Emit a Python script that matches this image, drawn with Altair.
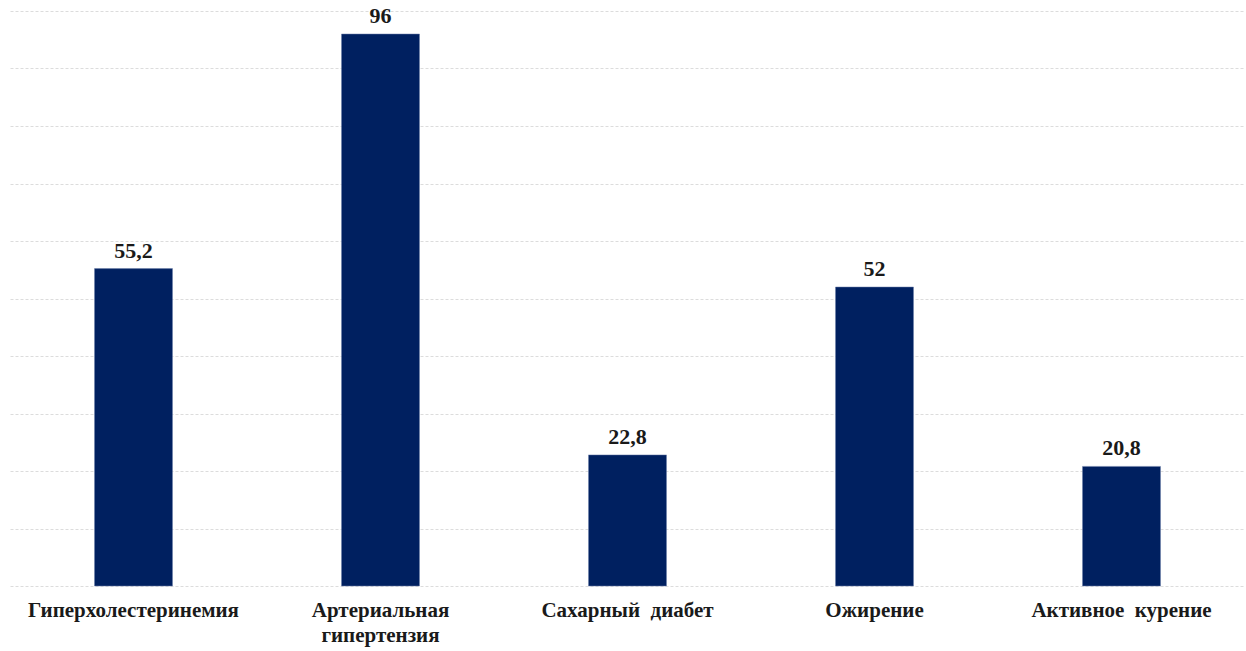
import altair as alt
import pandas as pd

categories = ["Гиперхолестеринемия", "Артериальная\nгипертензия", "Сахарный\u00a0\u00a0диабет", "Ожирение", "Активное\u00a0\u00a0курение"]
values = [55.2, 96, 22.8, 52, 20.8]
value_labels = ["55,2", "96", "22,8", "52", "20,8"]

df = pd.DataFrame({"cat": categories, "val": values, "lbl": value_labels})

FONT = "Liberation Serif"

x = alt.X("cat:N", sort=None, title=None,
          scale=alt.Scale(paddingInner=0, paddingOuter=0),
          axis=alt.Axis(labelAngle=0, labelFont=FONT, labelFontSize=21, labelFontWeight="bold",
                        labelColor="#1a1a1a", labelPadding=13, labelLineHeight=25,
                        labelExpr="split(datum.value, '\\n')",
                        ticks=False, domain=False, grid=False, labelLimit=400))
y = alt.Y("val:Q", title=None,
          scale=alt.Scale(domain=[0, 100], nice=False),
          axis=alt.Axis(values=list(range(0, 101, 10)), labels=False, ticks=False, domain=False,
                        grid=True, gridColor="#dcdcdc", gridDash=[3, 2], gridWidth=1))

bars = alt.Chart(df).mark_bar(size=78, color="#002060", stroke="#6d7fa8", strokeWidth=0.5).encode(x=x, y=y)
text = alt.Chart(df).mark_text(font=FONT, fontSize=22, fontWeight="bold", color="#1a1a1a",
                               baseline="alphabetic", dy=-11).encode(x=x, y=y, text="lbl:N")

chart = (bars + text).properties(
    width=1235, height=575,
    background="white",
    autosize=alt.AutoSizeParams(type="none"),
    padding={"left": 10, "top": 11, "right": 1, "bottom": 65},
).configure_view(stroke=None)

chart.save("out.html", embed_options={"renderer": "svg", "actions": False})
